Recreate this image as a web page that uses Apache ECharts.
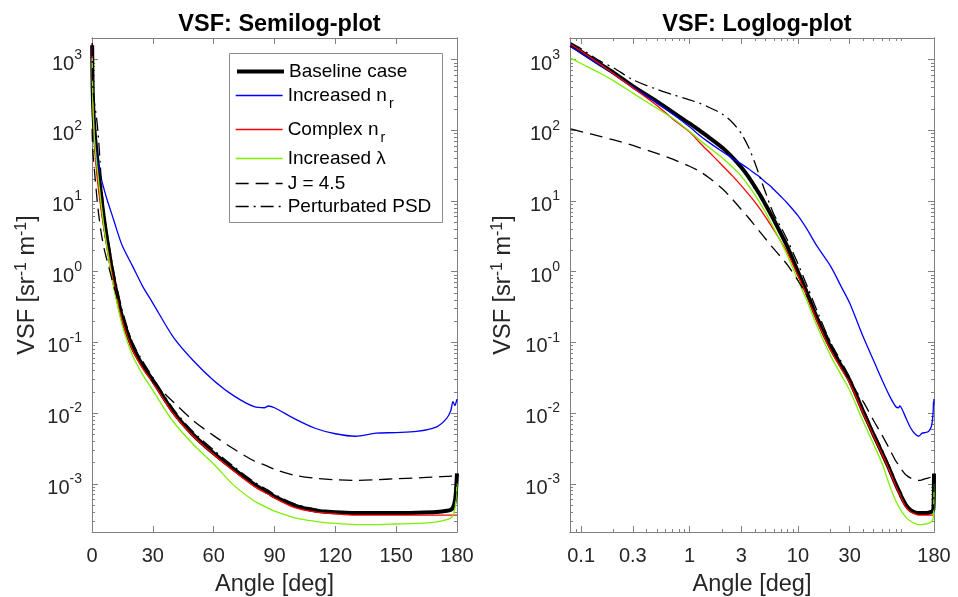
<!DOCTYPE html>
<html>
<head>
<meta charset="utf-8">
<script src="https://cdn.jsdelivr.net/npm/echarts@6/dist/echarts.min.js"></script>
<style>html,body{margin:0;padding:0;background:#fff}#chart{width:958px;height:597px}</style>
</head>
<body>
<div id="chart"></div>
<script>
// ---- data ----
const angles = [0.08, 0.1, 0.15, 0.2, 0.3, 0.5, 0.7, 1, 1.25, 1.5, 2, 2.5, 3, 3.5, 4, 4.5, 5, 5.5, 6, 7, 8, 10, 12, 15, 20, 25, 30, 40, 50, 60, 70, 80, 85, 87, 90, 100, 110, 120, 130, 140, 150, 160, 170, 175, 177, 178, 179, 179.5, 180];
const baseline = [1600, 1290, 860, 650, 420, 255, 180, 125, 98, 80, 57, 41, 30, 22, 16, 12, 9, 6.9, 5.4, 3.4, 2.25, 1.0, 0.52, 0.22, 0.085, 0.047, 0.029, 0.0105, 0.0049, 0.0027, 0.0016, 0.00098, 0.0008, 0.00075, 0.00066, 0.00049, 0.00042, 0.000395, 0.000385, 0.000385, 0.000385, 0.00039, 0.0004, 0.000415, 0.00043, 0.00046, 0.00058, 0.0008, 0.0014];
const increasedNr = [1520, 1240, 830, 625, 410, 245, 170, 112, 84, 68, 50, 40, 33.5, 28.5, 24.5, 21.5, 18.5, 16.5, 14.5, 11.5, 9.3, 6.2, 4.1, 2.3, 1.2, 0.62, 0.36, 0.12, 0.055, 0.029, 0.0175, 0.0123, 0.0119, 0.0126, 0.0119, 0.0083, 0.0061, 0.0051, 0.0047, 0.0052, 0.0053, 0.0055, 0.0064, 0.0085, 0.011, 0.0145, 0.0128, 0.014, 0.0158];
const complexNr = [1650, 1320, 860, 630, 400, 225, 145, 95, 66, 50, 32, 22.5, 16.5, 12.5, 9.7, 7.6, 6, 4.8, 3.9, 2.65, 1.85, 0.88, 0.47, 0.2, 0.078, 0.043, 0.027, 0.0099, 0.0047, 0.0026, 0.00152, 0.00092, 0.00076, 0.00071, 0.00063, 0.00046, 0.0004, 0.000375, 0.00036, 0.00036, 0.00036, 0.00036, 0.00036, 0.00036, 0.00036, 0.00036, 0.00036, 0.00036, 0.00036];
const increasedLambda = [1050, 880, 640, 500, 335, 205, 148, 97, 72, 58, 41, 30, 22.5, 16.5, 12.3, 9.2, 7, 5.3, 4.1, 2.6, 1.7, 0.76, 0.4, 0.17, 0.065, 0.035, 0.021, 0.0076, 0.0036, 0.0019, 0.00095, 0.00057, 0.00048, 0.00045, 0.00041, 0.00033, 0.000295, 0.000275, 0.000265, 0.000265, 0.00027, 0.000275, 0.00029, 0.00031, 0.00033, 0.00036, 0.00045, 0.0006, 0.001];
const j45 = [105, 96, 82, 73, 61, 47, 39, 31, 26, 21.5, 15, 10.5, 7.6, 5.8, 4.5, 3.6, 2.95, 2.45, 2.1, 1.6, 1.25, 0.75, 0.47, 0.24, 0.1, 0.05, 0.028, 0.0145, 0.0078, 0.0048, 0.0031, 0.0021, 0.00185, 0.00175, 0.0016, 0.00132, 0.0012, 0.00114, 0.00112, 0.00114, 0.00118, 0.00121, 0.00125, 0.00127, 0.00128, 0.00128, 0.00129, 0.0013, 0.0013];
const perturbedPsd = [1720, 1420, 950, 760, 520, 380, 320, 270, 240, 212, 170, 128, 90, 58, 35, 21, 13.5, 9, 6.5, 4.2, 2.8, 1.3, 0.66, 0.28, 0.1, 0.054, 0.032, 0.0116, 0.0054, 0.003, 0.00175, 0.00106, 0.00087, 0.00081, 0.00071, 0.00052, 0.00044, 0.000405, 0.00039, 0.00039, 0.00039, 0.000395, 0.000405, 0.00042, 0.00044, 0.00047, 0.0006, 0.0008, 0.0013];

const seriesNames = ['Baseline case', 'Increased n_r', 'Complex n_r', 'Increased \u03bb', 'J = 4.5', 'Perturbated PSD'];
const seriesValues = [baseline, increasedNr, complexNr, increasedLambda, j45, perturbedPsd];

const linTicks = [0, 30, 60, 90, 120, 150, 180];
const logXTicks = [0.1, 0.3, 1, 3, 10, 30, 180];
const yTicks = [1e-3, 1e-2, 1e-1, 1, 10, 100, 1000];

// ---- styles ----
const seriesStyles = [
  {color: '#000000', width: 4, type: 'solid'},
  {color: '#0000ff', width: 1.3, type: 'solid'},
  {color: '#ff0000', width: 1.3, type: 'solid'},
  {color: '#7cf000', width: 1.3, type: 'solid'},
  {color: '#000000', width: 1.3, type: [13, 7]},
  {color: '#000000', width: 1.3, type: [13, 5, 2, 5]}
];

const FONT = 'Liberation Sans, Arial, Helvetica, sans-serif';
const AX = '#808080';
const TXT = '#262626';
const yMin = 2.08e-4, yMax = 2020;
const xLogMin = 0.079, xLogMax = 180;

function minorLog(lo, hi) {
  const out = [];
  for (let k = -5; k <= 4; k++) {
    for (let m = 2; m <= 9; m++) {
      const v = +(m * Math.pow(10, k)).toPrecision(3);
      if (v >= lo && v <= hi) out.push(v);
    }
  }
  return out;
}
const yMinor = minorLog(yMin, yMax);
const xMinor = minorLog(xLogMin, xLogMax).filter(v => logXTicks.indexOf(v) < 0);

const supRich = {
  b: {fontSize: 20, fontFamily: FONT, color: TXT, padding: [9, 0, 0, 0]},
  sup: {fontSize: 14, fontFamily: FONT, color: TXT, padding: [0, 0, 9, 0]}
};
function yFmt(v) {
  const e = Math.round(Math.log10(v));
  return '{b|10}{sup|' + e + '}';
}

function logYAxis(grid, pos, major, withLabels, withName, nameGap) {
  return {
    type: 'log', gridIndex: grid, position: pos, min: yMin, max: yMax,
    axisLine: {show: true, lineStyle: {color: AX, width: 1}},
    axisTick: {show: true, inside: true, length: major ? 6 : 3, customValues: major ? yTicks : yMinor, lineStyle: {color: AX, width: 1}},
    axisLabel: {show: withLabels, customValues: yTicks, margin: 10, formatter: yFmt, rich: supRich},
    splitLine: {show: false}, minorTick: {show: false},
    name: withName ? 'VSF [sr{s|-1} m{s|-1}]' : '',
    nameLocation: 'middle', nameGap: nameGap || 53,
    nameTextStyle: {fontSize: 23.5, fontFamily: FONT, color: TXT,
      rich: {s: {fontSize: 16, fontFamily: FONT, color: TXT, padding: [0, 0, 11, 0]}}}
  };
}
function linXAxis(grid, pos, withLabels) {
  return {
    type: 'value', gridIndex: grid, position: pos, min: 0, max: 180, interval: 30,
    axisLine: {show: true, onZero: false, lineStyle: {color: AX, width: 1}},
    axisTick: {show: true, inside: true, length: 6, lineStyle: {color: AX, width: 1}},
    axisLabel: {show: withLabels, margin: 14, fontSize: 20, fontFamily: FONT, color: TXT},
    splitLine: {show: false},
    name: withLabels ? 'Angle [deg]' : '', nameLocation: 'middle', nameGap: 41,
    nameTextStyle: {fontSize: 23.5, fontFamily: FONT, color: TXT}
  };
}
function logXAxis(grid, pos, major, withLabels) {
  return {
    type: 'log', gridIndex: grid, position: pos, min: xLogMin, max: xLogMax,
    axisLine: {show: true, onZero: false, lineStyle: {color: AX, width: 1}},
    axisTick: {show: true, inside: true, length: major ? 6 : 3, customValues: major ? logXTicks : xMinor, lineStyle: {color: AX, width: 1}},
    axisLabel: {show: withLabels, customValues: logXTicks, margin: 14, fontSize: 20, fontFamily: FONT, color: TXT,
      formatter: v => String(+(+v).toPrecision(3))},
    splitLine: {show: false}, minorTick: {show: false},
    name: withLabels ? 'Angle [deg]' : '', nameLocation: 'middle', nameGap: 41,
    nameTextStyle: {fontSize: 23.5, fontFamily: FONT, color: TXT}
  };
}

const xAxes = [
  linXAxis(0, 'bottom', true),
  linXAxis(0, 'top', false),
  logXAxis(1, 'bottom', true, true),
  logXAxis(1, 'bottom', false, false),
  logXAxis(1, 'top', true, false),
  logXAxis(1, 'top', false, false)
];
const yAxes = [
  logYAxis(0, 'left', true, true, true, 51),
  logYAxis(0, 'left', false, false, false),
  logYAxis(0, 'right', true, false, false),
  logYAxis(0, 'right', false, false, false),
  logYAxis(1, 'left', true, true, true, 53),
  logYAxis(1, 'left', false, false, false),
  logYAxis(1, 'right', true, false, false),
  logYAxis(1, 'right', false, false, false)
];

const series = [];
[[0, 0], [2, 4]].forEach(([xi, yi]) => {
  seriesNames.forEach((name, i) => {
    const st = seriesStyles[i];
    series.push({
      name: name, type: 'line', xAxisIndex: xi, yAxisIndex: yi,
      data: angles.map((a, j) => [a, seriesValues[i][j]]),
      symbol: 'none', smooth: 0.3, silent: true, clip: true,
      lineStyle: {color: st.color, width: st.width, type: st.type, join: 'round', cap: 'butt'},
      itemStyle: {color: st.color}
    });
  });
});

const legendCenters = [71, 95, 129, 158, 183, 206];
const legends = seriesNames.map((name, i) => ({
  data: [name], orient: 'vertical', left: 235, top: legendCenters[i] - 9,
  padding: 0, itemWidth: 47, itemHeight: 14, itemGap: 0, selectedMode: false,
  itemStyle: {opacity: 0, color: 'rgba(0,0,0,0)', borderWidth: 0},
  lineStyle: {width: seriesStyles[i].width, type: seriesStyles[i].type, color: seriesStyles[i].color},
  textStyle: {fontSize: 19, fontFamily: FONT, color: '#000', padding: [0, 0, 0, 0],
    rich: {sub: {fontSize: 14, fontFamily: FONT, color: '#000', padding: [18, 0, 0, 2]}}},
  formatter: n => n.replace('_r', '{sub|r}')
}));

const chart = echarts.init(document.getElementById('chart'), null, {renderer: 'canvas'});
chart.setOption({
  animation: false,
  backgroundColor: '#ffffff',
  title: [
    {text: 'VSF: Semilog-plot', left: 274.5, top: 8, textAlign: 'center',
      textStyle: {fontSize: 23.5, fontWeight: 'bold', fontFamily: FONT, color: '#000'}},
    {text: 'VSF: Loglog-plot', left: 752, top: 8, textAlign: 'center',
      textStyle: {fontSize: 23.5, fontWeight: 'bold', fontFamily: FONT, color: '#000'}}
  ],
  grid: [
    {left: 92, top: 38, width: 365, height: 494, containLabel: false, outerBoundsMode: 'none'},
    {left: 570, top: 38, width: 364, height: 494, containLabel: false, outerBoundsMode: 'none'}
  ],
  xAxis: xAxes,
  yAxis: yAxes,
  legend: legends,
  graphic: [{
    type: 'rect', left: 229, top: 53, z: 0, silent: true,
    shape: {width: 213, height: 169},
    style: {fill: '#ffffff', stroke: '#8c8c8c', lineWidth: 1}
  }],
  series: series
});
</script>
</body>
</html>
